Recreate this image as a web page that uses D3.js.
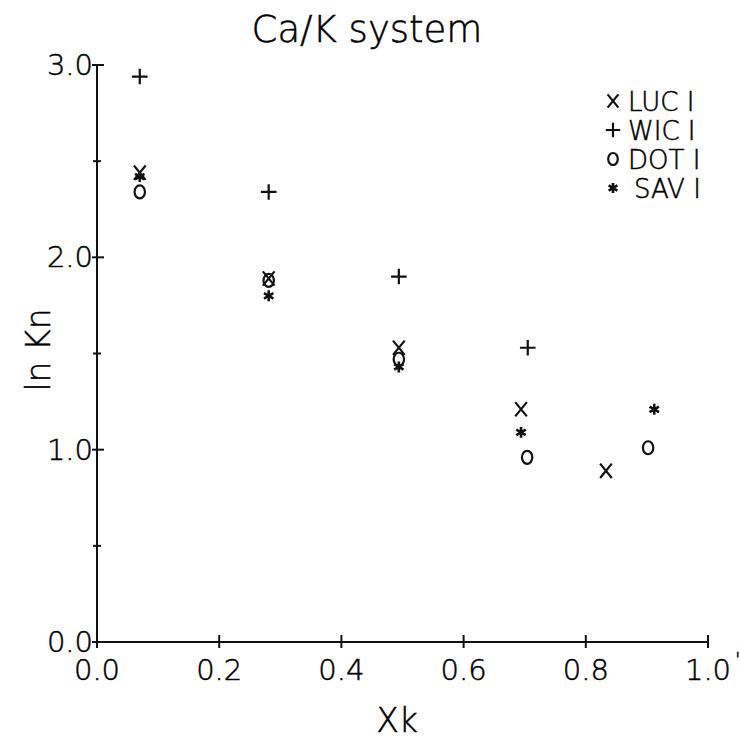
<!DOCTYPE html>
<html><head><meta charset="utf-8">
<script src="https://cdn.jsdelivr.net/npm/d3@7"></script>
<style>body{margin:0;background:#fff}svg{display:block}text{font-family:"DejaVu Sans",sans-serif;font-weight:200;fill:#000;stroke:#000;stroke-width:0.5}</style>
</head><body><svg id="c" width="740" height="744"></svg>
<script>
const title = "Ca/K system";
const xLabel = "Xk";
const yLabel = "ln Kn";
const xTicks = [0.0, 0.2, 0.4, 0.6, 0.8, 1.0];
const yTicks = [0.0, 1.0, 2.0, 3.0];
const yMinorTicks = [0.5, 1.5, 2.5];
const seriesNames = ["LUC I", "WIC I", "DOT I", "SAV I"];
const seriesSymbols = ["x", "+", "o", "*"];
const lucX = [0.070, 0.281, 0.494, 0.694, 0.833];
const lucY = [2.44, 1.89, 1.53, 1.21, 0.89];
const wicX = [0.070, 0.281, 0.494, 0.705];
const wicY = [2.94, 2.34, 1.90, 1.53];
const dotX = [0.070, 0.281, 0.494, 0.704, 0.902];
const dotY = [2.34, 1.88, 1.47, 0.96, 1.01];
const savX = [0.070, 0.281, 0.494, 0.694, 0.912];
const savY = [2.42, 1.80, 1.43, 1.09, 1.21];

const svg = d3.select("#c");
const x = d3.scaleLinear().domain([0, 1]).range([97, 708]);
const y = d3.scaleLinear().domain([0, 3]).range([642, 65]);
const ink = "#111";

// axes
const g = svg.append("g").attr("stroke", ink).attr("stroke-width", 2).attr("fill", "none");
g.append("line").attr("x1", x(0)).attr("x2", x(1)).attr("y1", y(0)).attr("y2", y(0));
g.append("line").attr("x1", x(0)).attr("x2", x(0)).attr("y1", y(0)).attr("y2", y(3));
xTicks.forEach(t => g.append("line").attr("x1", x(t)).attr("x2", x(t)).attr("y1", y(0) - 7).attr("y2", y(0) + 6));
yTicks.forEach(t => g.append("line").attr("x1", x(0) - 5).attr("x2", x(0) + 7).attr("y1", y(t)).attr("y2", y(t)));
yMinorTicks.forEach(t => g.append("line").attr("x1", x(0) - 4).attr("x2", x(0) + 4).attr("y1", y(t)).attr("y2", y(t)));

svg.selectAll(".xt").data(xTicks).enter().append("text")
  .attr("x", d => x(d)).attr("y", y(0) + 38).attr("text-anchor", "middle")
  .attr("font-size", 29).text(d => d.toFixed(1));
svg.selectAll(".yt").data(yTicks).enter().append("text")
  .attr("x", x(0) - 4).attr("y", d => y(d) + 10).attr("text-anchor", "end")
  .attr("font-size", 29).text(d => d.toFixed(1));
svg.append("text").attr("x", 735).attr("y", y(0) + 24).attr("font-size", 20).text("'");

svg.append("text").attr("x", 367).attr("y", 42).attr("text-anchor", "middle").attr("font-size", 37).text(title);
svg.append("text").attr("x", 397).attr("y", 732).attr("text-anchor", "middle").attr("font-size", 33).text(xLabel);
svg.append("text").attr("transform", "translate(50,350) rotate(-90)").attr("text-anchor", "middle").attr("font-size", 33).text(yLabel);

function drawSym(sel, sym, cx, cy, s) {
  const gg = sel.append("g").attr("transform", `translate(${cx},${cy})`).attr("stroke", ink).attr("stroke-width", 2.2).attr("fill", "none");
  if (sym === "x") {
    gg.append("path").attr("d", `M${-s*0.45},${-s*0.55}L${s*0.45},${s*0.55}M${s*0.45},${-s*0.55}L${-s*0.45},${s*0.55}`);
  } else if (sym === "+") {
    gg.append("path").attr("d", `M${-s*0.6},0L${s*0.6},0M0,${-s*0.6}L0,${s*0.6}`);
  } else if (sym === "o") {
    gg.append("ellipse").attr("rx", s*0.4).attr("ry", s*0.5);
  } else {
    const r = s*0.42;
    let d = "";
    for (let i = 0; i < 3; i++) { const a = Math.PI/2 + i*Math.PI/3; d += `M${r*Math.cos(a)},${r*Math.sin(a)}L${-r*Math.cos(a)},${-r*Math.sin(a)}`; }
    gg.append("path").attr("d", d).attr("stroke-width", 2.6);
  }
}
const series = [[lucX, lucY], [wicX, wicY], [dotX, dotY], [savX, savY]];
series.forEach((s, i) => s[0].forEach((xv, j) => drawSym(svg, seriesSymbols[i], x(xv), y(s[1][j]), 13)));

// legend
seriesNames.forEach((n, i) => {
  const ly = 101 + i * 29;
  drawSym(svg, seriesSymbols[i], 613, ly, 12);
  svg.append("text").attr("x", i === 3 ? 634 : 628).attr("y", ly + 10).attr("font-size", 26).text(n);
});
</script></body></html>
